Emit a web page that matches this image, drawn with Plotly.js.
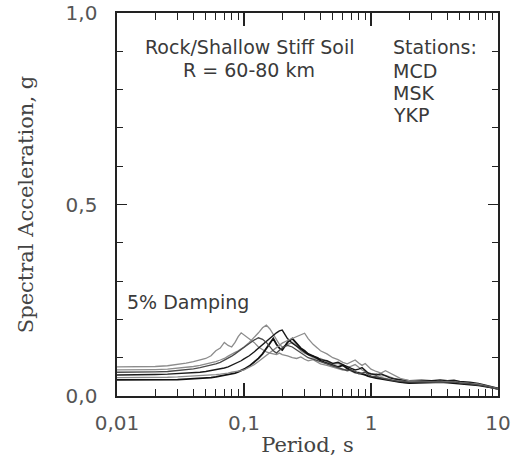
<!DOCTYPE html>
<html>
<head>
<meta charset="utf-8">
<script src="https://cdn.plot.ly/plotly-3.0.1.min.js"></script>
<style>html,body{margin:0;padding:0;background:#fff;}#chart{width:520px;height:459px;}</style>
</head>
<body>
<div id="chart"></div>
<script>
// Periods (s) at which spectral ordinates were read
const periods = [0.01,0.015,0.02,0.025,0.03,0.035,0.04,0.045,0.05,0.055,0.06,0.065,0.07,0.075,0.08,0.085,0.09,0.095,0.1,0.11,0.12,0.13,0.14,0.15,0.16,0.17,0.18,0.19,0.2,0.22,0.24,0.26,0.28,0.3,0.32,0.35,0.38,0.4,0.45,0.5,0.55,0.6,0.65,0.7,0.75,0.8,0.85,0.9,0.95,1.0,1.1,1.2,1.3,1.4,1.5,1.7,2.0,2.5,3,3.5,4,4.5,5,6,7,8,9,10];

// Spectral acceleration (g), 5% damping
const curveA = [.076,.076,.077,.079,.082,.086,.090,.095,.098,.105,.118,.125,.140,.132,.128,.140,.155,.165,.160,.150,.140,.128,.120,.115,.112,.110,.108,.112,.108,.105,.100,.098,.102,.096,.092,.095,.088,.084,.080,.075,.072,.068,.070,.064,.060,.062,.058,.054,.052,.050,.052,.048,.046,.044,.040,.036,.034,.036,.038,.040,.038,.040,.036,.034,.030,.026,.022,.018];
const curveB = [.068,.068,.069,.070,.072,.074,.077,.080,.083,.086,.090,.094,.098,.104,.110,.114,.118,.122,.128,.140,.152,.165,.178,.185,.175,.160,.145,.135,.128,.135,.140,.130,.118,.112,.108,.100,.096,.098,.090,.082,.085,.080,.074,.078,.082,.075,.068,.064,.060,.056,.058,.052,.054,.050,.046,.040,.035,.034,.035,.036,.037,.035,.036,.032,.030,.025,.021,.017];
const curveC = [.055,.055,.056,.057,.058,.059,.060,.062,.064,.066,.068,.070,.073,.076,.080,.084,.088,.092,.097,.105,.115,.125,.135,.142,.150,.158,.165,.170,.172,.150,.138,.130,.122,.115,.108,.104,.100,.095,.092,.085,.088,.082,.076,.072,.068,.070,.074,.066,.060,.058,.055,.058,.052,.048,.045,.042,.040,.041,.040,.042,.040,.041,.038,.036,.033,.028,.024,.020];
const curveD = [.042,.042,.042,.043,.043,.044,.045,.046,.047,.048,.050,.052,.054,.056,.058,.060,.063,.066,.070,.078,.088,.098,.110,.125,.140,.150,.135,.125,.120,.140,.150,.138,.125,.118,.110,.104,.098,.092,.085,.080,.076,.080,.072,.066,.062,.060,.058,.055,.052,.050,.047,.045,.043,.040,.038,.036,.034,.035,.034,.036,.035,.034,.032,.030,.028,.025,.022,.019];
const curveE = [.048,.048,.049,.049,.050,.051,.052,.053,.054,.055,.056,.057,.058,.060,.062,.063,.065,.066,.068,.075,.082,.090,.098,.105,.112,.120,.126,.132,.138,.145,.150,.155,.160,.164,.150,.135,.125,.118,.110,.100,.095,.088,.084,.090,.094,.086,.080,.085,.078,.070,.064,.060,.066,.060,.055,.046,.040,.038,.037,.036,.038,.036,.035,.033,.031,.027,.023,.019];
const curveF = [.062,.062,.063,.064,.066,.068,.071,.074,.077,.080,.084,.088,.093,.098,.104,.110,.116,.122,.128,.138,.146,.152,.148,.140,.128,.118,.112,.118,.126,.132,.128,.120,.112,.106,.100,.096,.092,.088,.084,.078,.074,.070,.066,.068,.064,.058,.060,.062,.056,.052,.050,.047,.045,.042,.040,.038,.036,.037,.036,.037,.036,.037,.034,.032,.029,.026,.022,.018];

const curves = [curveA, curveB, curveC, curveD, curveE, curveF];
const curveColors = ['#8c8c8c','#8c8c8c','#1a1a1a','#111111','#8c8c8c','#4a4a4a'];
const curveWidths = [1.3, 1.3, 1.4, 1.8, 1.3, 1.3];

const xTickVals = [0.01, 0.1, 1, 10];
const xTickText = ['0,01', '0,1', '1', '10'];
const yTickVals = [0, 0.5, 1.0];
const yTickText = ['0,0', '0,5', '1,0'];
const xMinor = [];
[0.01, 0.1, 1].forEach(d => { for (let k = 2; k <= 9; k++) xMinor.push(+(d * k).toPrecision(3)); });

const traces = curves.map((c, i) => ({
  x: periods, y: c, type: 'scatter', mode: 'lines',
  line: {color: curveColors[i], width: curveWidths[i]}, showlegend: false, hoverinfo: 'skip'
}));

const annFont = {family: 'DejaVu Sans, sans-serif', size: 19, color: '#3a3a3a'};
const tickFont = {family: 'DejaVu Sans, sans-serif', size: 20, color: '#555'};
const titleFont = {family: 'DejaVu Serif, serif', size: 21, color: '#444'};
const layout = {
  width: 520, height: 459,
  margin: {l: 117, r: 22, t: 13, b: 63},
  paper_bgcolor: '#fff', plot_bgcolor: '#fff',
  showlegend: false,
  xaxis: {
    type: 'log', range: [-2, 1],
    tickmode: 'array', tickvals: xTickVals, ticktext: xTickText,
    ticks: 'inside', ticklen: 13, tickwidth: 1.3, tickcolor: '#222',
    showline: true, linecolor: '#222', linewidth: 1.6, mirror: 'allticks',
    showgrid: false, zeroline: false, automargin: false,
    tickfont: tickFont, ticklabelstandoff: 8,
    minor: {tickmode: 'array', tickvals: xMinor, ticks: 'inside', ticklen: 7, tickwidth: 1.1, tickcolor: '#222', showgrid: false},
    title: {text: 'Period, s', font: titleFont, standoff: 4}
  },
  yaxis: {
    range: [0, 1.0],
    tickmode: 'array', tickvals: yTickVals, ticktext: yTickText,
    ticks: 'inside', ticklen: 10, tickwidth: 1.3, tickcolor: '#222',
    showline: true, linecolor: '#222', linewidth: 1.6, mirror: 'allticks',
    showgrid: false, zeroline: false, automargin: false,
    tickfont: tickFont, ticklabelstandoff: 14,
    minor: {dtick: 0.1, ticks: 'inside', ticklen: 6, tickwidth: 1.1, tickcolor: '#222', showgrid: false},
    title: {text: 'Spectral Acceleration, g', font: titleFont, standoff: 26}
  },
  annotations: [
    {xref: 'paper', yref: 'paper', x: 0.348, y: 0.911, text: 'Rock/Shallow Stiff Soil', showarrow: false, font: annFont, xanchor: 'center', yanchor: 'middle'},
    {xref: 'paper', yref: 'paper', x: 0.347, y: 0.851, text: 'R = 60-80 km', showarrow: false, font: annFont, xanchor: 'center', yanchor: 'middle'},
    {xref: 'paper', yref: 'paper', x: 0.718, y: 0.911, text: 'Stations:', showarrow: false, font: annFont, xanchor: 'left', yanchor: 'middle'},
    {xref: 'paper', yref: 'paper', x: 0.718, y: 0.848, text: 'MCD', showarrow: false, font: annFont, xanchor: 'left', yanchor: 'middle'},
    {xref: 'paper', yref: 'paper', x: 0.718, y: 0.791, text: 'MSK', showarrow: false, font: annFont, xanchor: 'left', yanchor: 'middle'},
    {xref: 'paper', yref: 'paper', x: 0.718, y: 0.734, text: 'YKP', showarrow: false, font: annFont, xanchor: 'left', yanchor: 'middle'},
    {xref: 'paper', yref: 'paper', x: 0.022, y: 0.245, text: '5% Damping', showarrow: false, font: annFont, xanchor: 'left', yanchor: 'middle'}
  ]
};

Plotly.newPlot('chart', traces, layout, {staticPlot: true, displayModeBar: false});
</script>
</body>
</html>
